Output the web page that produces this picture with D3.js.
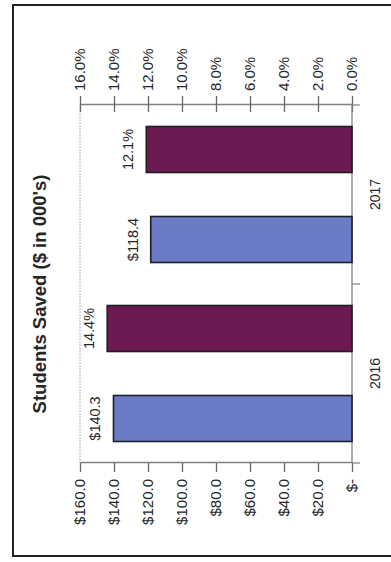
<!DOCTYPE html>
<html>
<head>
<meta charset="utf-8">
<script src="https://cdn.jsdelivr.net/npm/d3@7"></script>
<style>
  html, body { margin: 0; padding: 0; background: #fff; }
  svg { display: block; }
  text { font-family: "Liberation Sans", Arial, sans-serif; fill: #262626; }
</style>
</head>
<body>
<script>
// Students saved per year: dollars (in thousands, left axis) and rate (right axis)
const years = ["2016", "2017"];
const dollarsSaved = [140.3, 118.4];
const rateSaved = [0.144, 0.121];
const dollarTicks = [0, 20, 40, 60, 80, 100, 120, 140, 160];
const rateTicks = [0, 0.02, 0.04, 0.06, 0.08, 0.10, 0.12, 0.14, 0.16];
const titleText = "Students Saved ($ in 000's)";

const W = 391, H = 562;
const svg = d3.select("body").append("svg").attr("width", W).attr("height", H);

// outer chart frame (its right side runs off the page)
svg.append("rect")
  .attr("x", 13).attr("y", 5).attr("width", 420).attr("height", 551)
  .attr("fill", "#fff").attr("stroke", "#222").attr("stroke-width", 2);

// The chart is laid out as an ordinary column chart and turned a quarter turn
const plotW = 358, plotH = 272;
const g = svg.append("g").attr("transform", "translate(80,463) rotate(-90)");

const x = d3.scaleBand().domain(years).range([0, plotW]).padding(0);
const inner = d3.scaleBand().domain(["dollars", "rate"]).range([0, x.bandwidth()])
  .paddingInner(0.489).paddingOuter(0.239);
const yDollar = d3.scaleLinear().domain([0, 160]).range([plotH, 0]);
const yRate = d3.scaleLinear().domain([0, 0.16]).range([plotH, 0]);

// dotted top edge of the plot area
g.append("line")
  .attr("x1", 0).attr("x2", plotW).attr("y1", yDollar(160)).attr("y2", yDollar(160))
  .attr("stroke", "#9a9a9a").attr("stroke-width", 1).attr("stroke-dasharray", "1.5,1.5");

// left (dollar) axis
const axDollar = g.append("g")
  .call(d3.axisLeft(yDollar).tickValues(dollarTicks).tickSizeInner(9).tickSizeOuter(0).tickPadding(7)
    .tickFormat(d => d === 0 ? "$-" : "$" + d.toFixed(1)));
axDollar.select(".domain").attr("stroke", "#808080").attr("stroke-width", 1.3);
axDollar.selectAll(".tick line").attr("stroke", "#666").attr("stroke-width", 1.3);
axDollar.selectAll(".tick text").style("font-size", "15px").attr("fill", "#262626");

// right (rate) axis with ticks crossing the line
const axRate = g.append("g").attr("transform", `translate(${plotW},0)`)
  .call(d3.axisRight(yRate).tickValues(rateTicks).tickSizeInner(9).tickSizeOuter(0).tickPadding(5)
    .tickFormat(d3.format(".1%")));
axRate.select(".domain").attr("stroke", "#808080").attr("stroke-width", 1.3);
axRate.selectAll(".tick line").attr("x1", -7).attr("stroke", "#666").attr("stroke-width", 1.3);
axRate.selectAll(".tick text").style("font-size", "15px").attr("fill", "#262626");

// category axis along the base of the columns
const axCat = g.append("g").attr("transform", `translate(0,${plotH})`);
axCat.append("line").attr("x1", 0).attr("x2", plotW)
  .attr("stroke", "#808080").attr("stroke-width", 1.3);
axCat.selectAll("line.tk").data([0, plotW / 2, plotW]).join("line").attr("class", "tk")
  .attr("x1", d => d).attr("x2", d => d).attr("y1", 0).attr("y2", 8)
  .attr("stroke", "#808080").attr("stroke-width", 1.2);
axCat.selectAll("text").data(years).join("text")
  .attr("x", d => x(d) + x.bandwidth() / 2).attr("y", 28)
  .attr("text-anchor", "middle").style("font-size", "14px").text(d => d);

// columns
const rows = years.map((yr, i) => ({ yr, dollars: dollarsSaved[i], rate: rateSaved[i] }));
const bars = [];
rows.forEach(r => {
  bars.push({ yr: r.yr, key: "dollars", top: yDollar(r.dollars), label: "$" + r.dollars.toFixed(1), fill: "#6b7bc6" });
  bars.push({ yr: r.yr, key: "rate", top: yRate(r.rate), label: d3.format(".1%")(r.rate), fill: "#6d1a52" });
});

g.selectAll("rect.bar").data(bars).join("rect").attr("class", "bar")
  .attr("x", d => x(d.yr) + inner(d.key)).attr("width", inner.bandwidth())
  .attr("y", d => d.top).attr("height", d => plotH - d.top)
  .attr("fill", d => d.fill).attr("stroke", "#1e1e28").attr("stroke-width", 1.6);

g.selectAll("text.val").data(bars).join("text").attr("class", "val")
  .attr("x", d => x(d.yr) + inner(d.key) + inner.bandwidth() / 2)
  .attr("y", d => d.top - 13)
  .attr("text-anchor", "middle").style("font-size", "14.5px").text(d => d.label);

// chart title
g.append("text")
  .attr("x", 463 - 294).attr("y", 46 - 80)
  .attr("text-anchor", "middle").style("font-size", "18.5px").style("font-weight", "bold")
  .text(titleText);
</script>
</body>
</html>
